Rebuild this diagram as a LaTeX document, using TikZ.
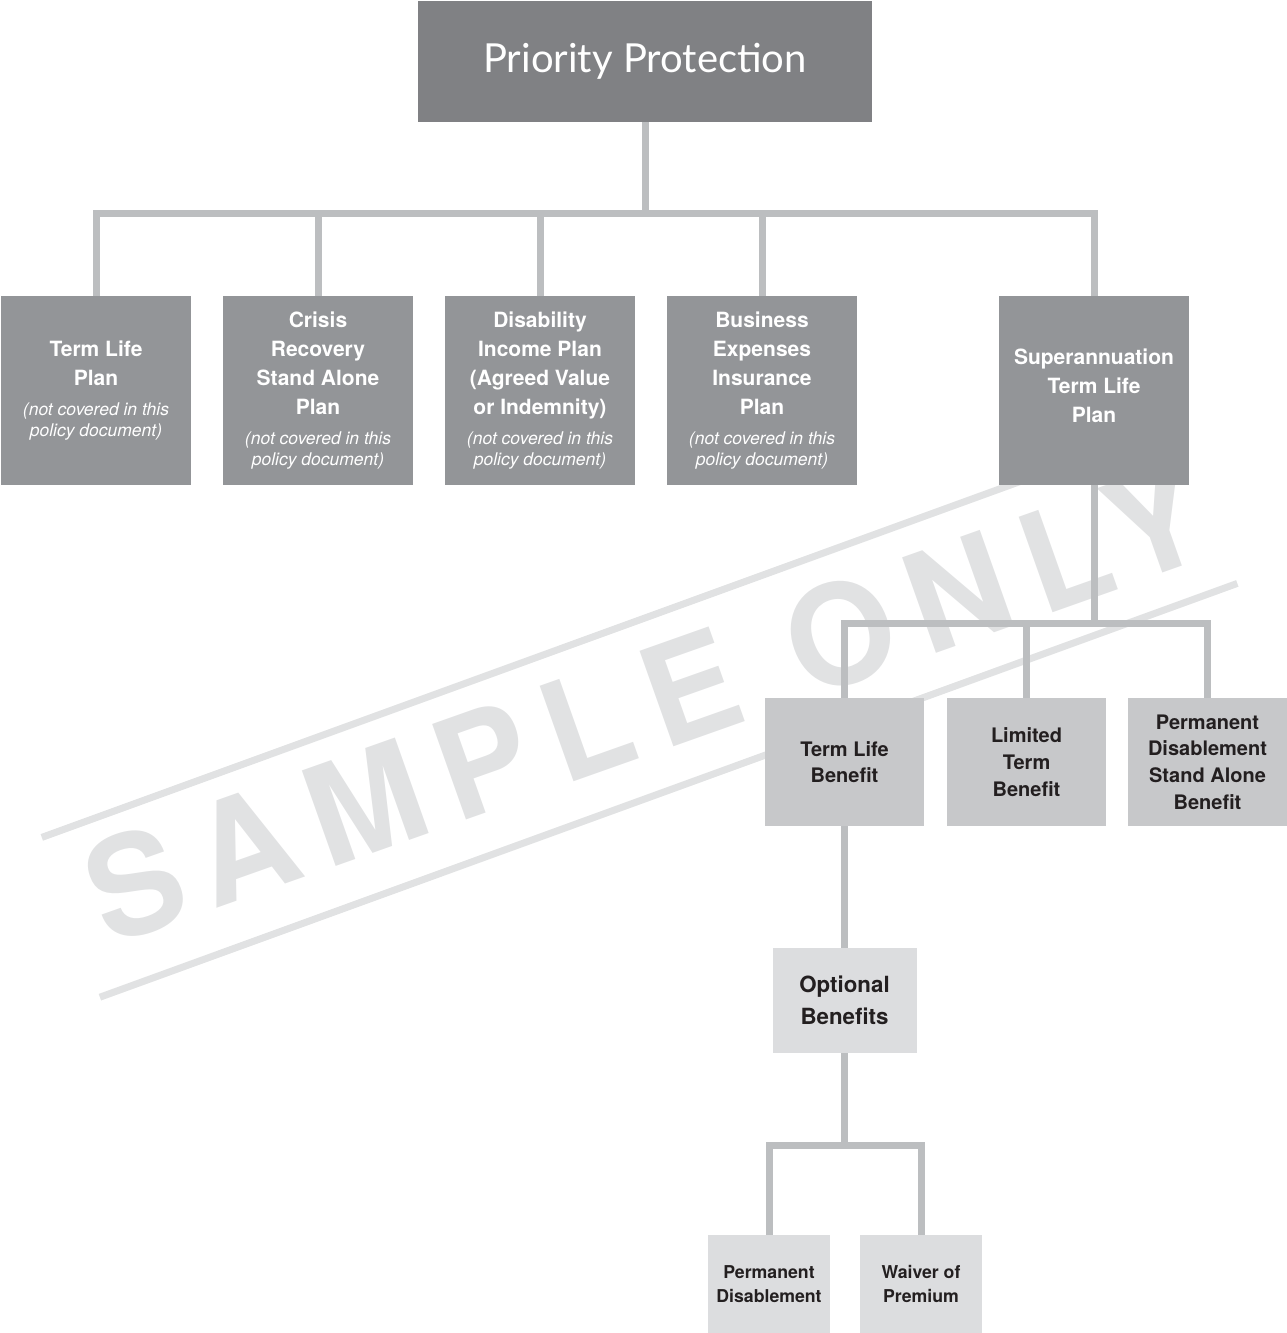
\documentclass[tikz,border=0pt]{standalone}
\usepackage{fontspec}
\setsansfont{TeX Gyre Heros}
\renewcommand{\familydefault}{\sfdefault}
\newfontfamily\titlefont{Lato}
\newfontfamily\markfont[LetterSpace=15]{TeX Gyre Heros}
\definecolor{topgray}{HTML}{808184}
\definecolor{plangray}{HTML}{939598}
\definecolor{benefitgray}{HTML}{C7C8CA}
\definecolor{optgray}{HTML}{DCDDDF}
\definecolor{linegray}{HTML}{BCBEC0}
\definecolor{markgray}{HTML}{E1E2E3}
\definecolor{inkdark}{HTML}{231F20}
\newcommand{\notetext}{\fontsize{17.5}{21}\selectfont\mdseries\itshape}
\begin{document}
\begin{tikzpicture}[x=1pt,y=-1pt,
  basebox/.style={rectangle, inner sep=0pt, align=center},
  titlebox/.style={basebox, fill=topgray, text=white, minimum width=454pt, minimum height=121pt,
    font=\titlefont\fontsize{40}{48}\selectfont},
  planbox/.style={basebox, fill=plangray, text=white, minimum width=190pt, minimum height=189pt,
    font=\fontsize{21}{29}\selectfont\bfseries},
  benefitbox/.style={basebox, fill=benefitgray, text=inkdark, minimum width=159pt, minimum height=128pt,
    font=\fontsize{20}{26.7}\selectfont\bfseries},
  optbox/.style={basebox, fill=optgray, text=inkdark, minimum width=144pt, minimum height=105pt,
    font=\fontsize{22.3}{32}\selectfont\bfseries},
  leafbox/.style={basebox, fill=optgray, text=inkdark, minimum width=122pt, minimum height=98pt,
    font=\fontsize{17.7}{24}\selectfont\bfseries},
  conn/.style={draw=linegray, line width=7pt},
  wmline/.style={draw=markgray, line width=7pt}]
\useasboundingbox (0,0) rectangle (1287,1333);
\draw[wmline] (41.8,837.4) -- (1179.2,423.6);
\draw[wmline] (99.9,997.2) -- (1237.3,583.4);
\node[text=markgray, rotate=19.5, inner sep=0pt, font=\markfont\bfseries\fontsize{139}{139}\selectfont] (wm) at (645,703) {SAMPLE ONLY};
\node[titlebox] (pp) at (645,61.5) {Priority Protection};
\node[planbox] (tl) at (96,390.5) {Term Life\\Plan\\[1pt]\notetext(not covered in this\\[-8pt]\notetext policy document)};
\node[planbox] (cr) at (318,390.5) {Crisis\\Recovery\\Stand Alone\\Plan\\[1pt]\notetext(not covered in this\\[-8pt]\notetext policy document)};
\node[planbox] (di) at (540,390.5) {Disability\\Income Plan\\(Agreed Value\\or Indemnity)\\[1pt]\notetext(not covered in this\\[-8pt]\notetext policy document)};
\node[planbox] (be) at (762,390.5) {Business\\Expenses\\Insurance\\Plan\\[1pt]\notetext(not covered in this\\[-8pt]\notetext policy document)};
\node[planbox] (su) at (1094,390.5) {Superannuation\\Term Life\\Plan\\[-19pt]};
\node[benefitbox] (tlb) at (844.5,762) {Term Life\\Benefit};
\node[benefitbox] (ltb) at (1026.5,762) {Limited\\Term\\Benefit};
\node[benefitbox] (pdb) at (1207.5,762) {Permanent\\Disablement\\Stand Alone\\Benefit};
\node[optbox] (ob) at (844.5,1000.5) {Optional\\Benefits};
\node[leafbox] (pd) at (769,1284) {Permanent\\Disablement};
\node[leafbox] (wp) at (921,1284) {Waiver of\\Premium};
\coordinate (b1) at (645,213);
\coordinate (b2) at (1094,623);
\coordinate (b3) at (844.5,1145);
\draw[conn] (pp.south) -- (b1);
\foreach \n in {tl,cr,di,be,su} \draw[conn] (\n.north) |- (b1);
\draw[conn] (su.south) -- (b2);
\foreach \n in {tlb,ltb,pdb} \draw[conn] (\n.north) |- (b2);
\draw[conn] (tlb.south) -- (ob.north);
\draw[conn] (ob.south) -- (b3);
\foreach \n in {pd,wp} \draw[conn] (\n.north) |- (b3);
\end{tikzpicture}
\end{document}
